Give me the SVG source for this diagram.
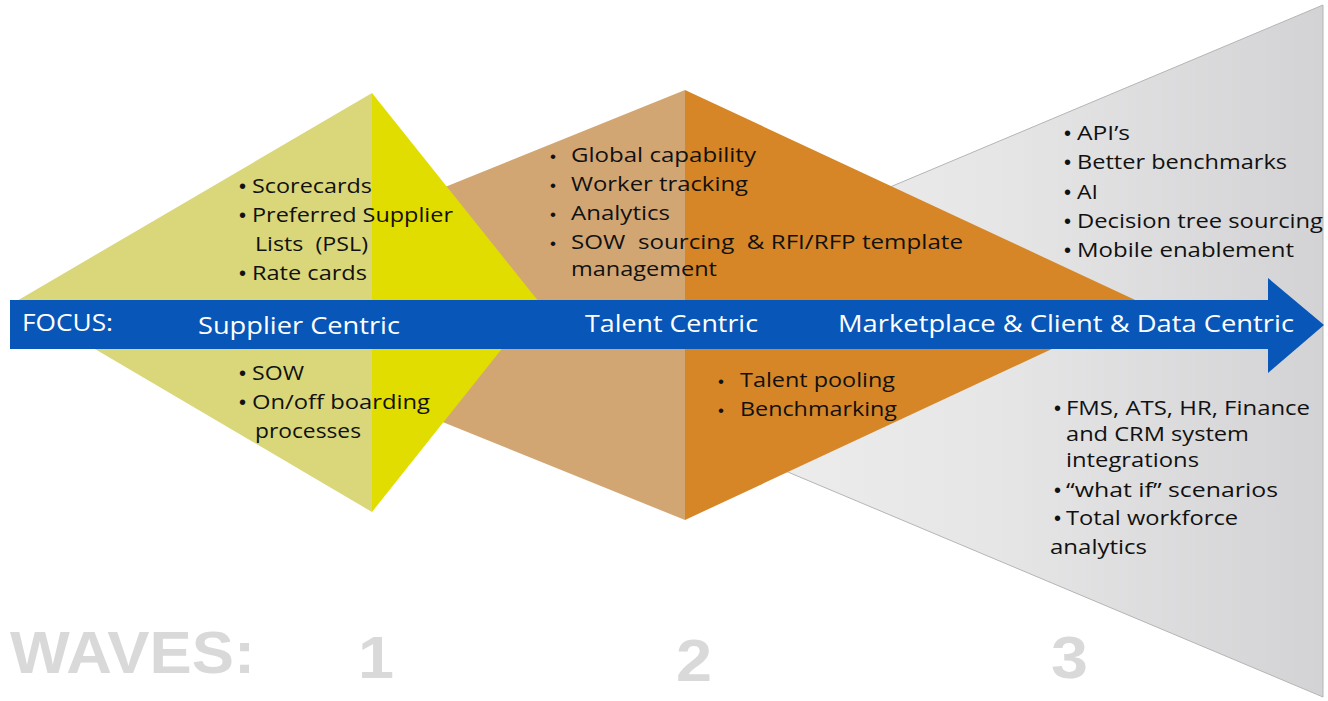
<svg xmlns="http://www.w3.org/2000/svg" width="1328" height="701" viewBox="0 0 1328 701">
<defs>
<linearGradient id="grayGrad" x1="500" y1="0" x2="1323" y2="0" gradientUnits="userSpaceOnUse">
<stop offset="0" stop-color="#f4f4f4"/>
<stop offset="0.6" stop-color="#e6e6e7"/>
<stop offset="1" stop-color="#d3d3d5"/>
</linearGradient>
<style>
text{white-space:pre}
.t{font-family:"Open Sans","Liberation Sans",sans-serif;font-size:20px;fill:#111111}
.b{font-family:"Liberation Sans",Arial,sans-serif;font-size:20px}
.b2{font-family:"Liberation Sans",Arial,sans-serif;font-size:17px}
.band{font-family:"Open Sans","Liberation Sans",sans-serif;font-size:23px;fill:#ffffff}
.wave{font-family:"Liberation Sans",Arial,sans-serif;font-weight:bold;fill:#d9d9d9}
</style>
</defs>
<rect width="1328" height="701" fill="#ffffff"/>

<g id="wave3">
<polygon points="500,351 1323,5 1323,697" fill="url(#grayGrad)" stroke="#b5b5b5" stroke-width="1"/>
</g>

<g id="wave2">
<polygon points="153,305 685,90 685,520" fill="#d2a673"/>
<polygon points="685,90 1146,305 685,520" fill="#d68627"/>
</g>

<g id="wave1">
<polygon points="15,302 372,93 372,512" fill="#d9d77a"/>
<polygon points="372,93 539,302 372,512" fill="#e1dd00"/>
</g>

<g id="focus-arrow">
<polygon points="10,300 1268,300 1268,278 1324,325 1268,373 1268,349 10,349" fill="#0756b8"/>
<text class="band" x="22" y="331" textLength="91" lengthAdjust="spacingAndGlyphs">FOCUS:</text>
<text class="band" x="198" y="334" textLength="202" lengthAdjust="spacingAndGlyphs">Supplier Centric</text>
<text class="band" x="585" y="332" textLength="173" lengthAdjust="spacingAndGlyphs">Talent Centric</text>
<text class="band" x="838" y="332" textLength="456" lengthAdjust="spacingAndGlyphs">Marketplace &amp; Client &amp; Data Centric</text>
</g>

<g id="wave1-text">
<text class="t" y="193"><tspan class="b" x="239">•</tspan><tspan x="252" textLength="120" lengthAdjust="spacingAndGlyphs">Scorecards</tspan></text>
<text class="t" y="222"><tspan class="b" x="239">•</tspan><tspan x="252" textLength="201" lengthAdjust="spacingAndGlyphs">Preferred Supplier</tspan></text>
<text class="t" x="255" y="251" textLength="113" lengthAdjust="spacingAndGlyphs">Lists  (PSL)</text>
<text class="t" y="280"><tspan class="b" x="239">•</tspan><tspan x="252" textLength="115" lengthAdjust="spacingAndGlyphs">Rate cards</tspan></text>
<text class="t" y="380"><tspan class="b" x="239">•</tspan><tspan x="252" textLength="52" lengthAdjust="spacingAndGlyphs">SOW</tspan></text>
<text class="t" y="409"><tspan class="b" x="239">•</tspan><tspan x="252" textLength="178" lengthAdjust="spacingAndGlyphs">On/off boarding</tspan></text>
<text class="t" x="255" y="438" textLength="106" lengthAdjust="spacingAndGlyphs">processes</text>
</g>

<g id="wave2-text">
<text class="t" y="162"><tspan class="b2" x="550">•</tspan><tspan x="571" textLength="185" lengthAdjust="spacingAndGlyphs">Global capability</tspan></text>
<text class="t" y="191"><tspan class="b2" x="550">•</tspan><tspan x="571" textLength="177" lengthAdjust="spacingAndGlyphs">Worker tracking</tspan></text>
<text class="t" y="220"><tspan class="b2" x="550">•</tspan><tspan x="571" textLength="99" lengthAdjust="spacingAndGlyphs">Analytics</tspan></text>
<text class="t" y="249"><tspan class="b2" x="550">•</tspan><tspan x="571" textLength="392" lengthAdjust="spacingAndGlyphs">SOW  sourcing  &amp; RFI/RFP template</tspan></text>
<text class="t" x="571" y="276" textLength="146" lengthAdjust="spacingAndGlyphs">management</text>
<text class="t" y="387"><tspan class="b2" x="718">•</tspan><tspan x="740" textLength="155" lengthAdjust="spacingAndGlyphs">Talent pooling</tspan></text>
<text class="t" y="416"><tspan class="b2" x="718">•</tspan><tspan x="740" textLength="157" lengthAdjust="spacingAndGlyphs">Benchmarking</tspan></text>
</g>

<g id="wave3-text">
<text class="t" y="140"><tspan class="b" x="1064">•</tspan><tspan x="1077" textLength="53" lengthAdjust="spacingAndGlyphs">API’s</tspan></text>
<text class="t" y="169"><tspan class="b" x="1064">•</tspan><tspan x="1077" textLength="210" lengthAdjust="spacingAndGlyphs">Better benchmarks</tspan></text>
<text class="t" y="199"><tspan class="b" x="1064">•</tspan><tspan x="1077" textLength="21" lengthAdjust="spacingAndGlyphs">AI</tspan></text>
<text class="t" y="228"><tspan class="b" x="1064">•</tspan><tspan x="1077" textLength="246" lengthAdjust="spacingAndGlyphs">Decision tree sourcing</tspan></text>
<text class="t" y="257"><tspan class="b" x="1064">•</tspan><tspan x="1077" textLength="217" lengthAdjust="spacingAndGlyphs">Mobile enablement</tspan></text>
<text class="t" y="415"><tspan class="b" x="1054">•</tspan><tspan x="1066" textLength="244" lengthAdjust="spacingAndGlyphs">FMS, ATS, HR, Finance</tspan></text>
<text class="t" x="1066" y="441" textLength="183" lengthAdjust="spacingAndGlyphs">and CRM system</text>
<text class="t" x="1066" y="467" textLength="133" lengthAdjust="spacingAndGlyphs">integrations</text>
<text class="t" y="497"><tspan class="b" x="1054">•</tspan><tspan x="1066" textLength="212" lengthAdjust="spacingAndGlyphs">“what if” scenarios</tspan></text>
<text class="t" y="525"><tspan class="b" x="1054">•</tspan><tspan x="1066" textLength="172" lengthAdjust="spacingAndGlyphs">Total workforce</tspan></text>
<text class="t" x="1050" y="554" textLength="97" lengthAdjust="spacingAndGlyphs">analytics</text>
</g>

<g id="waves">
<text class="wave" x="10" y="673" font-size="60" textLength="245" lengthAdjust="spacingAndGlyphs">WAVES:</text>
<text class="wave" x="358" y="678" font-size="60" textLength="36" lengthAdjust="spacingAndGlyphs">1</text>
<text class="wave" x="676" y="681" font-size="60" textLength="36" lengthAdjust="spacingAndGlyphs">2</text>
<text class="wave" x="1051" y="678" font-size="60" textLength="37" lengthAdjust="spacingAndGlyphs">3</text>
</g>
</svg>
